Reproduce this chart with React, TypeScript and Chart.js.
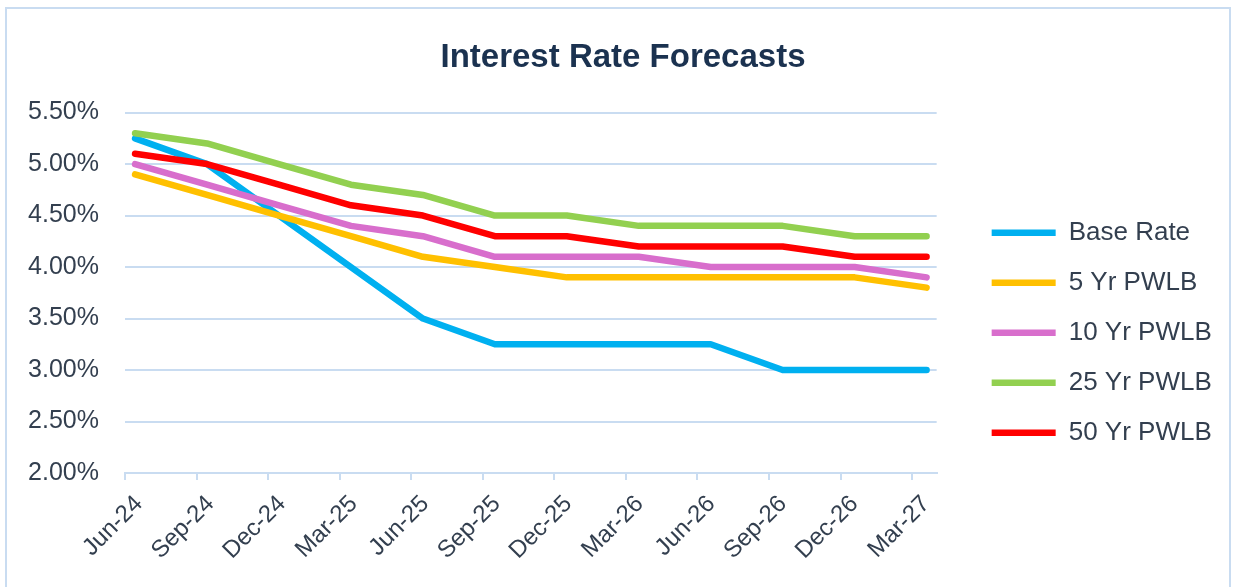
import React, { useEffect, useRef } from "react";
import { Chart, registerables } from "chart.js";

Chart.register(...registerables);

const categories = ["Jun-24", "Sep-24", "Dec-24", "Mar-25", "Jun-25", "Sep-25", "Dec-25", "Mar-26", "Jun-26", "Sep-26", "Dec-26", "Mar-27"];
const baseRate = [5.25, 5.0, 4.5, 4.0, 3.5, 3.25, 3.25, 3.25, 3.25, 3.0, 3.0, 3.0];
const pwlb5 = [4.9, 4.7, 4.5, 4.3, 4.1, 4.0, 3.9, 3.9, 3.9, 3.9, 3.9, 3.8];
const pwlb10 = [5.0, 4.8, 4.6, 4.4, 4.3, 4.1, 4.1, 4.1, 4.0, 4.0, 4.0, 3.9];
const pwlb25 = [5.3, 5.2, 5.0, 4.8, 4.7, 4.5, 4.5, 4.4, 4.4, 4.4, 4.3, 4.3];
const pwlb50 = [5.1, 5.0, 4.8, 4.6, 4.5, 4.3, 4.3, 4.2, 4.2, 4.2, 4.1, 4.1];
const seriesNames = ["Base Rate", "5 Yr PWLB", "10 Yr PWLB", "25 Yr PWLB", "50 Yr PWLB"];
const seriesValues = [baseRate, pwlb5, pwlb10, pwlb25, pwlb50];
const seriesColors = ["#00B0F0", "#FFC000", "#D86ECC", "#92D050", "#FF0000"];
const yTicks = [2.0, 2.5, 3.0, 3.5, 4.0, 4.5, 5.0, 5.5];

const FONT = "'Liberation Sans', Arial, sans-serif";
const GRID = "#C9DCF1";
const TEXT = "#333F4F";

// Places the legend a fixed gap to the right of the plot area.
const legendPlace = {
  id: "legendPlace",
  afterLayout(chart: any) {
    const lg = chart.legend;
    if (!lg) return;
    const ca = chart.chartArea;
    lg.left = ca.right + 31;
    lg.right = chart.width;
    lg.width = lg.right - lg.left;
    lg.top = ca.top;
    lg.bottom = chart.height - 34;
    lg.height = lg.bottom - lg.top;
  },
};

export default function App() {
  const ref = useRef<HTMLCanvasElement | null>(null);

  useEffect(() => {
    if (!ref.current) return;
    const chart = new Chart(ref.current, {
      type: "line",
      data: {
        datasets: seriesNames.map((name, i) => ({
          label: name,
          data: seriesValues[i].map((v, k) => ({ x: k, y: v })),
          borderColor: seriesColors[i],
          backgroundColor: seriesColors[i],
          borderWidth: 6.5,
          borderCapStyle: "round" as const,
          borderJoinStyle: "round" as const,
          pointRadius: 0,
          tension: 0,
          order: seriesNames.length - 1 - i,
        })),
      },
      options: {
        animation: false,
        responsive: false,
        maintainAspectRatio: false,
        layout: { padding: { top: 10, left: 10, right: 0, bottom: 0 } },
        plugins: {
          tooltip: { enabled: false },
          title: {
            display: true,
            text: "Interest Rate Forecasts",
            color: "#1B3250",
            font: { family: FONT, size: 33, weight: "bold" },
            padding: { top: 28, bottom: 35 },
          },
          legend: {
            position: "right",
            align: "center",
            labels: {
              usePointStyle: true,
              pointStyle: "line",
              pointStyleWidth: 64,
              padding: 24,
              color: TEXT,
              font: { family: FONT, size: 26 },
              sort: (a: any, b: any) => a.datasetIndex - b.datasetIndex,
            },
          },
        },
        scales: {
          x: {
            type: "linear",
            min: -0.14,
            max: 11.14,
            afterBuildTicks: (s: any) => {
              s.ticks = categories.map((_, k) => ({ value: k * 0.9944 - 0.14 }));
            },
            afterFit: (s: any) => {
              s.height = 114;
            },
            ticks: {
              autoSkip: false,
              maxRotation: 45,
              minRotation: 45,
              labelOffset: 14,
              padding: 10,
              color: TEXT,
              font: { family: FONT, size: 24 },
              callback: (_v: any, i: number) => categories[i],
            },
            grid: {
              display: true,
              drawOnChartArea: false,
              drawTicks: true,
              tickLength: 7,
              color: GRID,
              lineWidth: 2,
            },
            border: { display: true, color: GRID, width: 2 },
          },
          y: {
            type: "linear",
            min: 2,
            max: 5.5,
            afterBuildTicks: (s: any) => {
              s.ticks = yTicks.map((v) => ({ value: v }));
            },
            afterFit: (s: any) => {
              s.width = 115;
            },
            ticks: {
              padding: 26,
              color: TEXT,
              font: { family: FONT, size: 25 },
              callback: (v: any) => Number(v).toFixed(2) + "%",
            },
            grid: { color: GRID, lineWidth: 2, drawTicks: false },
            border: { display: false },
          },
          yR: {
            type: "linear",
            position: "right",
            display: true,
            afterFit: (s: any) => {
              s.width = 95;
            },
            ticks: { display: false },
            grid: { display: false },
            border: { display: false },
          },
        },
      },
      plugins: [legendPlace],
    });
    return () => chart.destroy();
  }, []);

  return (
    <div style={{ position: "fixed", left: 0, top: 0, width: 1236, height: 587, background: "#fff", overflow: "hidden" }}>
      <canvas ref={ref} width={1236} height={587} style={{ position: "absolute", left: 0, top: 0, width: 1236, height: 587 }} />
      <div
        style={{
          position: "absolute",
          left: 5,
          top: 7,
          width: 1222,
          height: 620,
          border: `2px solid ${GRID}`,
          pointerEvents: "none",
        }}
      />
    </div>
  );
}
